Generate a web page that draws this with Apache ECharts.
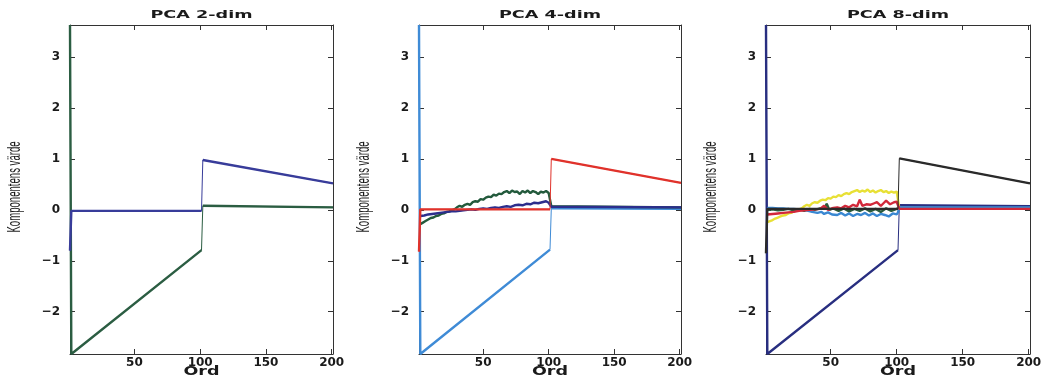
<!DOCTYPE html>
<html>
<head>
<meta charset="utf-8">
<script src="https://cdn.jsdelivr.net/npm/echarts@6/dist/echarts.min.js"></script>
<style>html,body{margin:0;padding:0;background:#fff}#c{width:1047px;height:380px}</style>
</head>
<body>
<div id="c"></div>
<script>
// ---- data ----
const titles = ['PCA 2-dim', 'PCA 4-dim', 'PCA 8-dim'];
const xName = 'Ord';
const yName = 'Komponentens värde';
const xMin = 1, xMax = 201;
const yMin = -2.83, yMax = 3.63;
const xTicks = [50, 100, 150, 200];
const yTicks = [-2, -1, 0, 1, 2, 3];

// Panel 1 (2-dim)
const p1Green = [[1,3.63],[2,-2.83],[101,-0.79],[102,0.08],[201,0.05]];
const p1Blue  = [[1,-0.8],[2,-0.02],[101,-0.02],[102,0.98],[201,0.52]];

// Panel 2 (4-dim)
const p2LightBlue = [[1,3.63],[2,-2.83],[101,-0.78],[102,0.03],[201,0.02]];
const p2Green = [[2,-0.28],[4,-0.25],[6,-0.22],[8,-0.19],[10,-0.16],[12,-0.15],[14,-0.12],[16,-0.11],[18,-0.08],[20,-0.07],[22,-0.04],[24,-0.03],[26,-0.01],[28,0.01],[30,0.05],[32,0.08],[34,0.06],[36,0.1],[38,0.12],[40,0.1],[42,0.15],[44,0.17],[46,0.16],[48,0.21],[50,0.2],[52,0.24],[54,0.26],[56,0.25],[58,0.3],[60,0.28],[62,0.32],[64,0.31],[66,0.35],[68,0.37],[70,0.33],[72,0.38],[74,0.35],[76,0.36],[78,0.31],[80,0.37],[82,0.34],[84,0.38],[86,0.33],[88,0.37],[90,0.35],[92,0.31],[94,0.36],[96,0.34],[98,0.37],[100,0.33],[101,0.34],[102,0.07],[201,0.05]];
const p2Navy = [[2,-0.12],[5,-0.11],[8,-0.09],[11,-0.08],[14,-0.07],[17,-0.06],[20,-0.05],[23,-0.04],[26,-0.03],[29,-0.03],[32,-0.02],[35,-0.01],[38,0.0],[41,0.01],[44,0.0],[47,0.02],[50,0.03],[53,0.02],[56,0.04],[59,0.05],[62,0.04],[65,0.06],[68,0.07],[71,0.06],[74,0.09],[77,0.1],[80,0.09],[83,0.12],[86,0.11],[89,0.14],[92,0.13],[95,0.15],[98,0.17],[100,0.14],[101,0.15],[102,0.06],[201,0.05]];
const p2Red = [[1,-0.82],[2,0.01],[101,0.01],[102,1.0],[201,0.53]];

// Panel 3 (8-dim)
const p3Navy = [[1,3.63],[2,-2.83],[101,-0.79],[102,0.09],[201,0.07]];
const p3Yellow = [[2,-0.24],[4,-0.22],[6,-0.2],[8,-0.17],[10,-0.15],[12,-0.13],[14,-0.11],[16,-0.1],[18,-0.07],[20,-0.06],[22,-0.03],[24,-0.01],[26,0.01],[28,0.03],[30,0.07],[32,0.1],[34,0.08],[36,0.13],[38,0.15],[40,0.14],[42,0.18],[44,0.2],[46,0.19],[48,0.23],[50,0.22],[52,0.26],[54,0.25],[56,0.29],[58,0.27],[60,0.31],[62,0.33],[64,0.31],[66,0.35],[68,0.37],[70,0.39],[72,0.35],[74,0.38],[76,0.36],[78,0.4],[80,0.35],[82,0.38],[84,0.34],[86,0.37],[88,0.39],[90,0.35],[92,0.37],[94,0.33],[96,0.36],[98,0.34],[100,0.36],[101,0.35],[102,0.03],[201,0.03]];
const p3Green = [[2,0.0],[6,0.01],[10,-0.01],[14,0.0],[18,0.02],[22,-0.01],[26,0.01],[30,-0.02],[34,0.02],[38,0.0],[42,0.03],[45,0.02],[47,0.12],[49,0.0],[52,0.03],[56,-0.02],[60,0.03],[64,-0.03],[68,0.02],[72,-0.02],[76,0.03],[80,-0.03],[84,0.02],[88,-0.04],[92,0.03],[96,-0.02],[100,0.02],[101,0.0],[102,0.04],[201,0.04]];
const p3LightBlue = [[2,0.04],[6,0.04],[10,0.03],[14,0.03],[18,0.02],[22,0.02],[26,0.01],[30,0.0],[33,-0.02],[36,-0.04],[40,-0.06],[43,-0.04],[45,-0.08],[48,-0.05],[51,-0.09],[55,-0.1],[58,-0.06],[61,-0.11],[64,-0.07],[67,-0.12],[70,-0.08],[73,-0.1],[76,-0.06],[79,-0.11],[82,-0.07],[85,-0.12],[88,-0.08],[91,-0.1],[94,-0.13],[97,-0.07],[100,-0.09],[101,-0.05],[102,0.05],[201,0.05]];
const p3Red = [[2,-0.09],[6,-0.08],[10,-0.07],[14,-0.06],[18,-0.05],[22,-0.04],[26,-0.02],[30,-0.01],[34,0.0],[38,0.01],[42,0.02],[45,0.08],[48,0.0],[52,0.04],[55,0.05],[58,0.03],[61,0.08],[64,0.05],[67,0.1],[70,0.07],[72,0.2],[74,0.08],[77,0.11],[80,0.1],[83,0.13],[85,0.15],[88,0.08],[90,0.13],[92,0.18],[95,0.11],[98,0.15],[100,0.16],[101,0.13],[102,0.02],[201,0.02]];
const p3Black = [[1,-0.85],[2,0.02],[101,0.02],[102,1.01],[201,0.52]];

const panels = [
  [{d:p1Green,c:'#2b5d42'},{d:p1Blue,c:'#383c9a'}],
  [{d:p2LightBlue,c:'#3f8bd6'},{d:p2Green,c:'#235a3c'},{d:p2Navy,c:'#2c2e8c'},{d:p2Red,c:'#e0322b'}],
  [{d:p3Navy,c:'#282e80'},{d:p3Yellow,c:'#e8e036'},{d:p3Green,c:'#2a5a3c'},{d:p3LightBlue,c:'#3a88d2'},{d:p3Red,c:'#d2283a'},{d:p3Black,c:'#2a2a2a'}]
];

// ---- layout ----
const grids = [
  {left:70, top:25, width:263, height:329},
  {left:419, top:25, width:262, height:329},
  {left:766, top:25, width:264, height:329}
];

// thick segments, broken at the jump between word 101 and 102 (drawn thin)
function thickData(pts){
  const out = [];
  for (let i = 0; i < pts.length; i++) {
    if (i > 0 && pts[i][0] > 50 && Math.abs(pts[i][1]-pts[i-1][1]) > 0.4 && pts[i][0]-pts[i-1][0] <= 1) out.push([pts[i][0], '-']);
    out.push(pts[i]);
  }
  return out;
}
const fmt = v => String(v).replace('-', '\u2212');
const axisLineStyle = {show:true, onZero:false, lineStyle:{color:'#333', width:1}};
const labelFont = {fontFamily:'DejaVu Sans', fontWeight:'bold', fontSize:12, color:'#1a1a1a'};
const tick = {show:true, inside:true, length:5, lineStyle:{color:'#333'}};

const xAxis = [], yAxis = [], series = [], graphic = [];
grids.forEach((g, i) => {
  xAxis.push({gridIndex:i, type:'value', min:xMin, max:xMax, position:'bottom',
    axisLine:axisLineStyle, splitLine:{show:false},
    axisTick:Object.assign({customValues:xTicks}, tick),
    axisLabel:Object.assign({show:true, margin:3, customValues:xTicks, formatter:fmt}, labelFont)});
  xAxis.push({gridIndex:i, type:'value', min:xMin, max:xMax, position:'top',
    axisLine:axisLineStyle, splitLine:{show:false},
    axisTick:Object.assign({customValues:xTicks}, tick),
    axisLabel:{show:false}});
  yAxis.push({gridIndex:i, type:'value', min:yMin, max:yMax, position:'left',
    axisLine:axisLineStyle, splitLine:{show:false},
    axisTick:Object.assign({customValues:yTicks}, tick),
    axisLabel:Object.assign({show:true, margin:10, customValues:yTicks, formatter:fmt}, labelFont)});
  yAxis.push({gridIndex:i, type:'value', min:yMin, max:yMax, position:'right',
    axisLine:axisLineStyle, splitLine:{show:false},
    axisTick:Object.assign({customValues:yTicks}, tick),
    axisLabel:{show:false}});
  panels[i].forEach(s => {
    series.push({type:'line', xAxisIndex:2*i, yAxisIndex:2*i, data:s.d, showSymbol:false, clip:false,
      animation:false, lineStyle:{color:s.c, width:1}, itemStyle:{color:s.c}, silent:true});
    series.push({type:'line', xAxisIndex:2*i, yAxisIndex:2*i, data:thickData(s.d), showSymbol:false, clip:false,
      connectNulls:false, animation:false, lineStyle:{color:s.c, width:2.4}, itemStyle:{color:s.c}, silent:true});
  });
  const cx = g.left + g.width/2;
  graphic.push({type:'text', x:cx, y:15, scaleX:1.6, style:{text:titles[i], font:'bold 11px "DejaVu Sans"', fill:'#1a1a1a', align:'center', verticalAlign:'middle'}});
  graphic.push({type:'text', x:cx, y:372, scaleX:1.35, style:{text:xName, font:'bold 13px "DejaVu Sans"', fill:'#1a1a1a', align:'center', verticalAlign:'middle'}});
  graphic.push({type:'text', x:g.left-55, y:187, rotation:Math.PI/2, scaleY:1.9, style:{text:yName, font:'9.6px "Liberation Sans"', fill:'#1a1a1a', align:'center', verticalAlign:'middle'}});
});

const chart = echarts.init(document.getElementById('c'), null, {renderer:'canvas'});
chart.setOption({animation:false, backgroundColor:'#fff', grid:grids, xAxis, yAxis, series, graphic});
</script>
</body>
</html>
